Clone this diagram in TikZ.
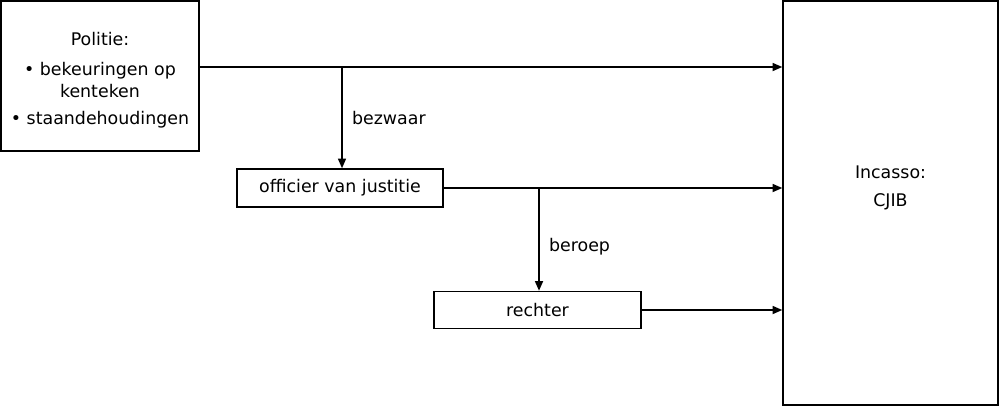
\documentclass[tikz,border=0pt]{standalone}
\usepackage{fontspec}
\setmainfont{DejaVu Sans}
\usepackage{tikz}
\usetikzlibrary{arrows.meta}

\begin{document}
\begin{tikzpicture}[x=0.02cm,y=-0.02cm,>={Triangle[length=5.5pt,width=4.6pt]},font=\fontsize{9.9}{12.3}\selectfont,
  box/.style={draw,line width=0.9pt,inner sep=0pt,align=center},
  link/.style={line width=0.8pt}]
\useasboundingbox (0,0) rectangle (1000,407);
\node[box,minimum width=3.96cm,minimum height=3cm] (politie) at (100,76)
  {\rule{0pt}{12.2pt}Politie:\\[5pt] \textbullet\ bekeuringen op\\[0pt] kenteken\\[3pt] \textbullet\ staandehoudingen};
\node[box,minimum width=4.3cm,minimum height=8.08cm,text depth=19pt] (cjib) at (890.5,203)
  {Incasso:\\[4pt] CJIB};
\node[box,minimum width=4.12cm,minimum height=0.76cm] (ovj) at (340,188) {officier van justitie};
\node[box,minimum width=4.14cm,minimum height=0.74cm] (rechter) at (537.5,310) {rechter};
\coordinate (b1) at (342,67);
\coordinate (b2) at (539,188);
\draw[link,->] (politie.east |- b1) -- (cjib.west |- b1);
\draw[link,->] (b1) -- (b1 |- ovj.north) node[midway,right=2pt]{bezwaar};
\draw[link,->] (ovj.east) -- (cjib.west |- ovj.east);
\draw[link,->] (b2) -- (b2 |- rechter.north) node[midway,right=2pt,yshift=-4pt]{beroep};
\draw[link,->] (rechter.east) -- (cjib.west |- rechter.east);
\end{tikzpicture}
\end{document}
